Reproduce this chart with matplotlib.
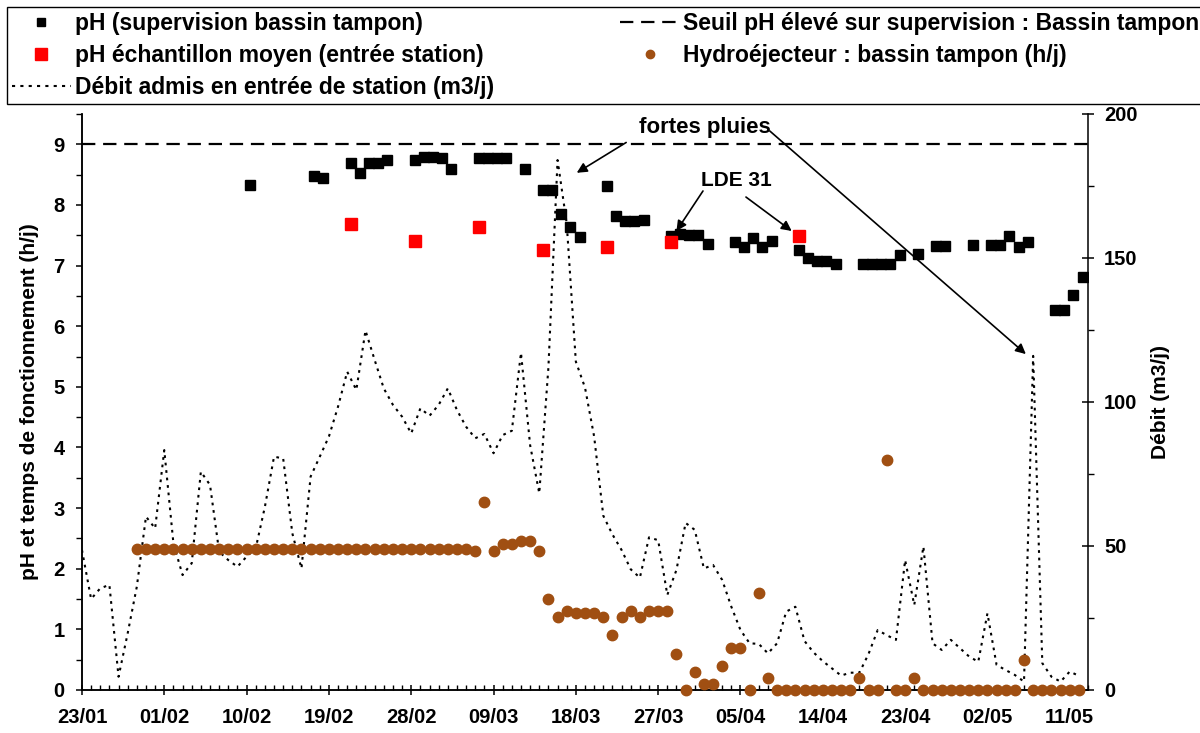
import numpy as np
import matplotlib.pyplot as plt
from matplotlib.lines import Line2D
from matplotlib.ticker import MultipleLocator, FixedLocator

plt.rcParams['font.family'] = ['Liberation Sans', 'DejaVu Sans']
plt.rcParams['font.weight'] = 'bold'

# ---------- data (days counted from 23/01) ----------
tick_days = [0, 9, 18, 27, 36, 45, 54, 63, 72, 81, 90, 99, 108]
tick_labels = ['23/01', '01/02', '10/02', '19/02', '28/02', '09/03', '18/03',
               '27/03', '05/04', '14/04', '23/04', '02/05', '11/05']

# pH supervision bassin tampon (readings taken in the morning, ~0.4 day)
ph_sup_days = [18, 25, 26, 29, 30, 31, 32, 33, 36, 37, 38, 39, 40, 43, 44, 45, 46,
               48, 50, 51, 52, 53, 54, 57, 58, 59, 60, 61, 64, 65, 66, 67, 68,
               71, 72, 73, 74, 75, 78, 79, 80, 81, 82, 85, 86, 87, 88, 89, 91,
               93, 94, 97, 99, 100, 101, 102, 103, 106, 107, 108, 109]
ph_sup = [8.33, 8.47, 8.45, 8.69, 8.52, 8.69, 8.69, 8.74, 8.74, 8.79, 8.79, 8.77, 8.60,
          8.77, 8.77, 8.77, 8.77, 8.60, 8.25, 8.24, 7.85, 7.64, 7.47, 8.31, 7.82,
          7.74, 7.73, 7.75, 7.49, 7.52, 7.51, 7.51, 7.36, 7.39, 7.31, 7.46, 7.31,
          7.41, 7.26, 7.13, 7.07, 7.07, 7.03, 7.03, 7.03, 7.03, 7.03, 7.18, 7.19,
          7.33, 7.33, 7.34, 7.34, 7.34, 7.49, 7.31, 7.39, 6.26, 6.26, 6.52, 6.81]

# pH echantillon moyen (entree station)
ph_ech_days = [29, 36, 43, 50, 57, 64, 78]
ph_ech = [7.68, 7.40, 7.63, 7.26, 7.31, 7.39, 7.49]

# Hydroejecteur : bassin tampon (h/j), daily from day 6 to day 109
hydro_days = list(range(6, 110))
hydro = [2.32, 2.32, 2.32, 2.32, 2.32, 2.32, 2.32, 2.32, 2.32, 2.32,
         2.32, 2.32, 2.32, 2.32, 2.32, 2.32, 2.32, 2.32, 2.32, 2.32,
         2.32, 2.32, 2.32, 2.32, 2.32, 2.32, 2.32, 2.32, 2.32, 2.32,
         2.32, 2.32, 2.32, 2.32, 2.32, 2.32, 2.32, 2.29, 3.10, 2.29,
         2.40, 2.40, 2.45, 2.45, 2.29, 1.50, 1.20, 1.30, 1.27, 1.27,
         1.27, 1.20, 0.90, 1.20, 1.30, 1.20, 1.30, 1.30, 1.30, 0.60,
         0.00, 0.30, 0.10, 0.10, 0.40, 0.70, 0.70, 0.00, 1.60, 0.20,
         0.00, 0.00, 0.00, 0.00, 0.00, 0.00, 0.00, 0.00, 0.00, 0.20,
         0.00, 0.00, 3.80, 0.00, 0.00, 0.20, 0.00, 0.00, 0.00, 0.00,
         0.00, 0.00, 0.00, 0.00, 0.00, 0.00, 0.00, 0.50, 0.00, 0.00,
         0.00, 0.00, 0.00, 0.00]

# Debit admis en entree de station (m3/j), daily from day 0
debit_days = list(range(0, 110))
debit = [48.6, 31.6, 35.3, 36.5, 4.6, 19.7, 35.9, 60.2, 56.1, 83.3,
         50.9, 39.9, 44.0, 75.8, 71.2, 48.0, 45.1, 42.8, 46.3, 49.2,
         63.6, 81.0, 80.4, 54.4, 42.2, 74.1, 81.0, 88.0, 98.4, 110.5,
         104.2, 124.8, 114.6, 104.7, 99.0, 94.9, 89.1, 97.8, 95.2, 99.0,
         104.7, 97.2, 91.4, 87.4, 88.9, 82.2, 88.5, 90.0, 117.1, 85.0,
         68.3, 112.0, 184.0, 162.0, 114.0, 105.0, 88.0, 60.5, 54.0, 48.6,
         41.9, 39.0, 53.0, 52.0, 33.0, 41.7, 58.0, 55.6, 42.2, 43.4,
         38.2, 28.9, 20.8, 16.2, 16.0, 12.7, 16.2, 27.2, 28.9, 17.0,
         13.0, 10.0, 7.5, 5.0, 6.0, 6.0, 12.5, 20.8, 19.0, 17.4,
         45.1, 29.5, 49.8, 16.2, 13.9, 17.4, 14.5, 11.6, 9.8, 26.6,
         8.7, 6.9, 5.2, 2.9, 116.0, 9.3, 4.6, 2.9, 6.4, 4.9]

seuil_ph = 9.0

# ---------- figure ----------
FS = 15
brown = '#A04F12'
fig = plt.figure(figsize=(12, 7.33), dpi=100)
ax = fig.add_axes([0.0683, 0.0587, 0.8384, 0.7858])
ax2 = ax.twinx()

ax.set_zorder(ax2.get_zorder() + 1)
ax.patch.set_visible(False)

shift = 0.4
h_sup, = ax.plot(np.array(ph_sup_days) + shift, ph_sup, 's', color='black',
                 markersize=7.5, linestyle='none')
h_ech, = ax.plot(np.array(ph_ech_days) + shift, ph_ech, 's', color='red',
                 markersize=8.5, linestyle='none')
h_hyd, = ax.plot(hydro_days, hydro, 'o', color=brown, markersize=7.5,
                 linestyle='none', clip_on=False, zorder=4)
h_seuil = ax.axhline(seuil_ph, color='black', lw=1.6, linestyle=(0, (6, 3.5)))
h_deb, = ax2.plot(debit_days, debit, color='black', lw=1.5,
                  linestyle=(0, (1.3, 2.3)))

ax.set_xlim(0, 110)
ax.set_ylim(0, 9.5)
ax2.set_ylim(0, 200)

ax.xaxis.set_major_locator(FixedLocator(tick_days))
ax.set_xticklabels(tick_labels)
ax.xaxis.set_minor_locator(MultipleLocator(1))
ax.yaxis.set_major_locator(MultipleLocator(1))
ax.yaxis.set_minor_locator(MultipleLocator(0.5))
ax2.yaxis.set_major_locator(MultipleLocator(50))
ax2.yaxis.set_minor_locator(MultipleLocator(25))

for a in (ax, ax2):
    a.spines['top'].set_visible(False)
    for s in a.spines.values():
        s.set_linewidth(1.1)
ax.spines['right'].set_visible(False)

ax.tick_params(axis='x', which='major', direction='inout', length=7.5, width=1.1,
               labelsize=FS - 0.5, pad=9)
ax.tick_params(axis='x', which='minor', direction='in', length=3.5, width=1.0)
ax.tick_params(axis='y', which='major', direction='out', length=4.5, width=1.1,
               labelsize=FS - 0.5, pad=8)
ax.tick_params(axis='y', which='minor', direction='out', length=4.5, width=1.0)
ax2.tick_params(axis='y', which='major', direction='inout', length=9, width=1.1,
                labelsize=FS - 0.5, pad=7)
ax2.tick_params(axis='y', which='minor', direction='out', length=4, width=1.0)

ax.set_ylabel('pH et temps de fonctionnement (h/j)', fontsize=FS, fontweight='bold',
              labelpad=10)
ax2.set_ylabel('Débit (m3/j)', fontsize=FS, fontweight='bold', labelpad=10)

# annotations
ax.text(68.1, 9.27, 'fortes pluies', fontsize=FS + 1, fontweight='bold',
        ha='center', va='center')
arrow = dict(arrowstyle='-|>', color='black', lw=1.2, mutation_scale=15,
             shrinkA=0, shrinkB=0)
ax.annotate('', xy=(54.1, 8.53), xytext=(59.5, 9.03), arrowprops=arrow)
ax.annotate('', xy=(103.2, 5.54), xytext=(75.2, 9.22), arrowprops=arrow)
ax.text(71.5, 8.4, 'LDE 31', fontsize=FS, fontweight='bold',
        ha='center', va='center')
ax.annotate('', xy=(65.0, 7.57), xytext=(67.9, 8.23), arrowprops=arrow)
ax.annotate('', xy=(77.6, 7.57), xytext=(72.6, 8.13), arrowprops=arrow)

# legend on top
leg_handles = [Line2D([], [], marker='s', color='black', ls='none', markersize=5.5),
               Line2D([], [], marker='s', color='red', ls='none', markersize=8),
               Line2D([], [], color='black', lw=1.5, ls=(0, (1.5, 2.5))),
               Line2D([], [], color='black', lw=1.6, ls=(0, (6, 3.5))),
               Line2D([], [], marker='o', color=brown, ls='none', markersize=6)]
leg_labels = ['pH (supervision bassin tampon)',
              'pH échantillon moyen (entrée station)',
              'Débit admis en entrée de station (m3/j)',
              'Seuil pH élevé sur supervision : Bassin tampon',
              'Hydroéjecteur : bassin tampon (h/j)']
leg = fig.legend(leg_handles, leg_labels, ncol=2, loc='upper left',
                 bbox_to_anchor=(7 / 1200, 1 - 7 / 733), borderaxespad=0,
                 fontsize=16.5, frameon=True, fancybox=False, edgecolor='black',
                 framealpha=1, borderpad=0.2, labelspacing=0.4,
                 handlelength=2.6, handletextpad=0.15, columnspacing=5.5)
leg.get_frame().set_linewidth(1.0)
for t in leg.get_texts():
    t.set_fontweight('bold')

fig.savefig('out.png', dpi=100)
